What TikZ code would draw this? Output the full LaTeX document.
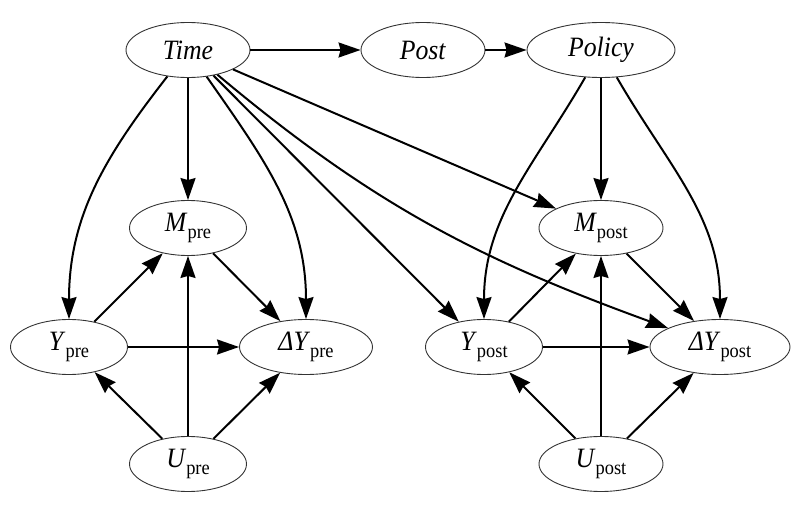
\documentclass[tikz,border=0pt]{standalone}
\usepackage{fontspec}
\setmainfont{Liberation Serif}[FakeStretch=0.92]
\usetikzlibrary{shapes.geometric, arrows.meta, positioning}
\newcommand{\lowtxt}[1]{\raisebox{-3.5pt}{\fontsize{10}{10}\selectfont #1}}
\tikzset{
    varnode/.style={ellipse, draw=black!80, line width=0.45pt, minimum height=27.5pt, minimum width=62pt, inner sep=0pt, font=\fontsize{14}{16}\selectfont},
    arrow/.style={line width=1pt, -{Stealth[length=11pt, width=7.5pt, inset=1pt]}, color=black}
}

\begin{document}
\begin{tikzpicture}[on grid]
    \useasboundingbox (0pt,0pt) rectangle (400pt,-254pt);
    \node (time) [varnode] at (94pt,-25pt) {\textit{Time}};
    \node (post) [varnode, right=117.5pt of time] {\textit{Post}};
    \node (policy) [varnode, minimum width=74pt, right=89pt of post] {\textit{Policy}};

    \node (mpre) [varnode, minimum width=58.5pt, below=89pt of time] {\textit{M}\lowtxt{pre}};
    \node (ypre) [varnode, minimum width=58.5pt, below left=59.5pt and 59.5pt of mpre] {\textit{Y}\lowtxt{pre}};
    \node (dypre) [varnode, minimum width=66.5pt, below right=59.5pt and 59pt of mpre] {\textit{ΔY}\lowtxt{pre}};
    \node (upre) [varnode, minimum width=58.5pt, below=118pt of mpre] {\textit{U}\lowtxt{pre}};

    \node (mpost) [varnode, below=89pt of policy] {\textit{M}\lowtxt{post}};
    \node (ypost) [varnode, minimum width=58.5pt, below left=59.5pt and 58.5pt of mpost] {\textit{Y}\lowtxt{post}};
    \node (dypost) [varnode, minimum width=70pt, below right=59.5pt and 59.5pt of mpost] {\textit{ΔY}\lowtxt{post}};
    \node (upost) [varnode, below=118pt of mpost] {\textit{U}\lowtxt{post}};

    \draw [arrow] (time) -- (post);
    \draw [arrow] (post) -- (policy);
    \draw [arrow] (time) -- (mpre);
    \draw [arrow] (time) to[out=-128, in=90] (ypre);
    \draw [arrow] (time) to[out=-55, in=90] (dypre);
    \draw [arrow] (time) -- (ypost);
    \draw [arrow] (time) -- (mpost);
    \draw [arrow] (time) to[out=-40, in=160] (dypost);
    \draw [arrow] (policy) to[out=-120, in=90] (ypost);
    \draw [arrow] (policy) -- (mpost);
    \draw [arrow] (policy) to[out=-60, in=90] (dypost);

    \draw [arrow] (ypre) -- (mpre);
    \draw [arrow] (ypre) -- (dypre);
    \draw [arrow] (mpre) -- (dypre);
    \draw [arrow] (upre) -- (ypre);
    \draw [arrow] (upre) -- (mpre);
    \draw [arrow] (upre) -- (dypre);

    \draw [arrow] (ypost) -- (mpost);
    \draw [arrow] (ypost) -- (dypost);
    \draw [arrow] (mpost) -- (dypost);
    \draw [arrow] (upost) -- (ypost);
    \draw [arrow] (upost) -- (mpost);
    \draw [arrow] (upost) -- (dypost);
\end{tikzpicture}
\end{document}
